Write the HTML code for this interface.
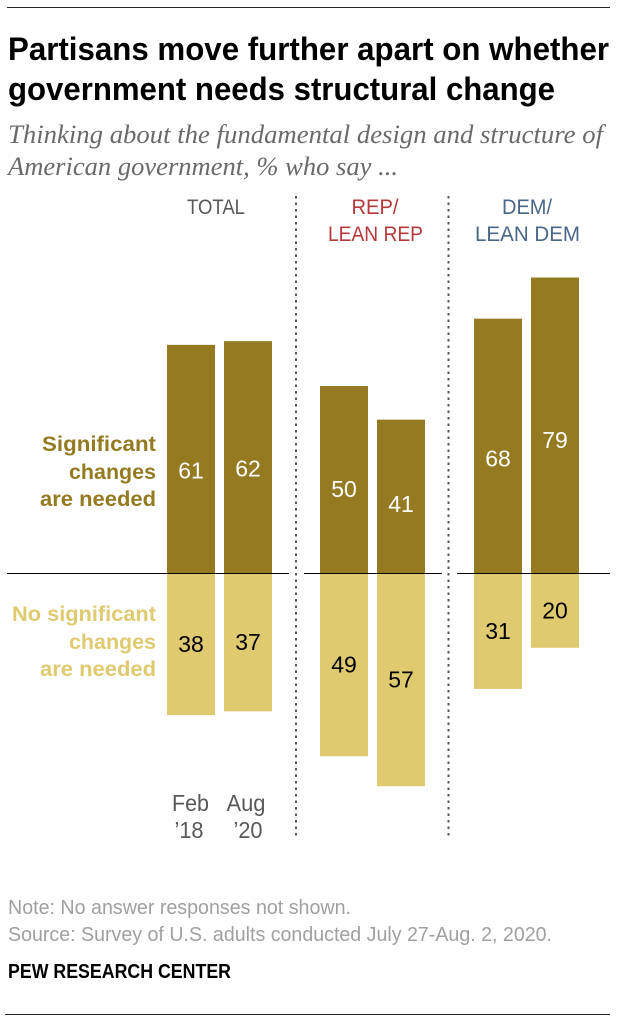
<!DOCTYPE html>
<html lang="en">
<head>
<meta charset="utf-8">
<title>Partisans move further apart on whether government needs structural change</title>
<style>
html,body{margin:0;padding:0;background:#fff;width:618px;height:1024px;overflow:hidden}
svg{display:block}
text{font-family:"Liberation Sans",sans-serif}
.title{font-size:32px;font-weight:700;fill:#000}
.sub{font-family:"Liberation Serif",serif;font-style:italic;font-size:26px;fill:#6a6a6a}
.hdr{font-size:21px;text-anchor:middle}
.lab{font-size:21.5px;font-weight:700;text-anchor:end}
.val{font-size:23px;text-anchor:middle}
.date{font-size:23px;fill:#58595b;text-anchor:middle}
.note{font-size:20px;fill:#a0a0a0}
</style>
</head>
<body>
<svg id="chart" width="618" height="1024" viewBox="0 0 618 1024" xmlns="http://www.w3.org/2000/svg">
  <rect width="618" height="1024" fill="#fff"/>
  <line x1="7" x2="610" y1="7.5" y2="7.5" stroke="#222" stroke-width="1"/>
  <text class="title" x="8" y="60" textLength="601" lengthAdjust="spacingAndGlyphs">Partisans move further apart on whether</text>
  <text class="title" x="8" y="100" textLength="547" lengthAdjust="spacingAndGlyphs">government needs structural change</text>
  <text class="sub" x="8" y="143" textLength="595" lengthAdjust="spacingAndGlyphs">Thinking about the fundamental design and structure of</text>
  <text class="sub" x="8" y="175" textLength="390" lengthAdjust="spacingAndGlyphs">American government, % who say ...</text>

  <text class="hdr" x="216" y="214" fill="#58595b" textLength="58" lengthAdjust="spacingAndGlyphs">TOTAL</text>
  <text class="hdr" x="375" y="214" fill="#b5393a" textLength="47" lengthAdjust="spacingAndGlyphs">REP/</text>
  <text class="hdr" x="375.5" y="241" fill="#b5393a" textLength="95" lengthAdjust="spacingAndGlyphs">LEAN REP</text>
  <text class="hdr" x="527" y="214" fill="#4a6788" textLength="50" lengthAdjust="spacingAndGlyphs">DEM/</text>
  <text class="hdr" x="527.5" y="241" fill="#4a6788" textLength="105" lengthAdjust="spacingAndGlyphs">LEAN DEM</text>

  <line x1="296" x2="296" y1="196" y2="838" stroke="#555" stroke-width="2" stroke-dasharray="2.5 4"/>
  <line x1="448.5" x2="448.5" y1="196" y2="838" stroke="#555" stroke-width="2" stroke-dasharray="2.5 4"/>

  <text class="lab" x="156" y="451" fill="#947a21" textLength="114" lengthAdjust="spacingAndGlyphs">Significant</text>
  <text class="lab" x="156" y="479" fill="#947a21" textLength="87" lengthAdjust="spacingAndGlyphs">changes</text>
  <text class="lab" x="156" y="506" fill="#947a21" textLength="116" lengthAdjust="spacingAndGlyphs">are needed</text>
  <text class="lab" x="156" y="621" fill="#dfca70" textLength="144" lengthAdjust="spacingAndGlyphs">No significant</text>
  <text class="lab" x="156" y="649" fill="#dfca70" textLength="87" lengthAdjust="spacingAndGlyphs">changes</text>
  <text class="lab" x="156" y="676" fill="#dfca70" textLength="116" lengthAdjust="spacingAndGlyphs">are needed</text>

  <g id="bars"></g>
  <g id="baselines">
    <line x1="7" x2="289" y1="573.5" y2="573.5" stroke="#000" stroke-width="1"/>
    <line x1="304" x2="442" y1="573.5" y2="573.5" stroke="#000" stroke-width="1"/>
    <line x1="457" x2="610" y1="573.5" y2="573.5" stroke="#000" stroke-width="1"/>
  </g>
  <g id="values"></g>

  <text class="date" x="190.5" y="811" textLength="37" lengthAdjust="spacingAndGlyphs">Feb</text>
  <text class="date" x="189" y="838" textLength="29" lengthAdjust="spacingAndGlyphs">’18</text>
  <text class="date" x="246" y="811" textLength="39" lengthAdjust="spacingAndGlyphs">Aug</text>
  <text class="date" x="248" y="838" textLength="29" lengthAdjust="spacingAndGlyphs">’20</text>

  <text class="note" x="8" y="914" textLength="343" lengthAdjust="spacingAndGlyphs">Note: No answer responses not shown.</text>
  <text class="note" x="8" y="941" textLength="544" lengthAdjust="spacingAndGlyphs">Source: Survey of U.S. adults conducted July 27-Aug. 2, 2020.</text>
  <text x="8" y="978" font-size="20" font-weight="700" fill="#000" textLength="223" lengthAdjust="spacingAndGlyphs">PEW RESEARCH CENTER</text>
  <line x1="5" x2="610" y1="1014.5" y2="1014.5" stroke="#222" stroke-width="1"/>
</svg>
<script>
const groups = ['total', 'rep', 'dem'];
const periods = ['feb-18', 'aug-20'];
const significant = [61, 62, 50, 41, 68, 79];
const noSignificant = [38, 37, 49, 57, 31, 20];

const SVG_NS = 'http://www.w3.org/2000/svg';
const ZERO_Y = 573;
const UNIT = 3.74;
const BAR_W = 48;
const GROUP_X = [167, 320, 474];
const PERIOD_STEP = 57;

function xScale(i) {
  const group = Math.floor(i / periods.length);
  return GROUP_X[group] + (i % periods.length) * PERIOD_STEP;
}
function heightScale(v) {
  return v * UNIT;
}
function barName(prefix, i) {
  return prefix + '-' + groups[Math.floor(i / periods.length)] + '-' + periods[i % periods.length];
}

const barsLayer = document.getElementById('bars');
const valuesLayer = document.getElementById('values');

significant.forEach(function (v, i) {
  const h = heightScale(v);
  const r = document.createElementNS(SVG_NS, 'rect');
  r.setAttribute('x', xScale(i));
  r.setAttribute('y', ZERO_Y - h);
  r.setAttribute('width', BAR_W);
  r.setAttribute('height', h);
  r.setAttribute('fill', '#947a21');
  
  
  barsLayer.appendChild(r);

  const t = document.createElementNS(SVG_NS, 'text');
  t.setAttribute('class', 'val');
  t.setAttribute('x', xScale(i) + BAR_W / 2);
  t.setAttribute('y', ZERO_Y - h * 0.45 + 8);
  t.setAttribute('fill', '#fff');
  
  
  t.textContent = v;
  valuesLayer.appendChild(t);
});

noSignificant.forEach(function (v, i) {
  const h = heightScale(v);
  const r = document.createElementNS(SVG_NS, 'rect');
  r.setAttribute('x', xScale(i));
  r.setAttribute('y', ZERO_Y);
  r.setAttribute('width', BAR_W);
  r.setAttribute('height', h);
  r.setAttribute('fill', '#dfca70');
  
  
  barsLayer.appendChild(r);

  const t = document.createElementNS(SVG_NS, 'text');
  t.setAttribute('class', 'val');
  t.setAttribute('x', xScale(i) + BAR_W / 2);
  t.setAttribute('y', ZERO_Y + h * 0.5 + 8);
  t.setAttribute('fill', '#000');
  
  
  t.textContent = v;
  valuesLayer.appendChild(t);
});
</script>
</body>
</html>
